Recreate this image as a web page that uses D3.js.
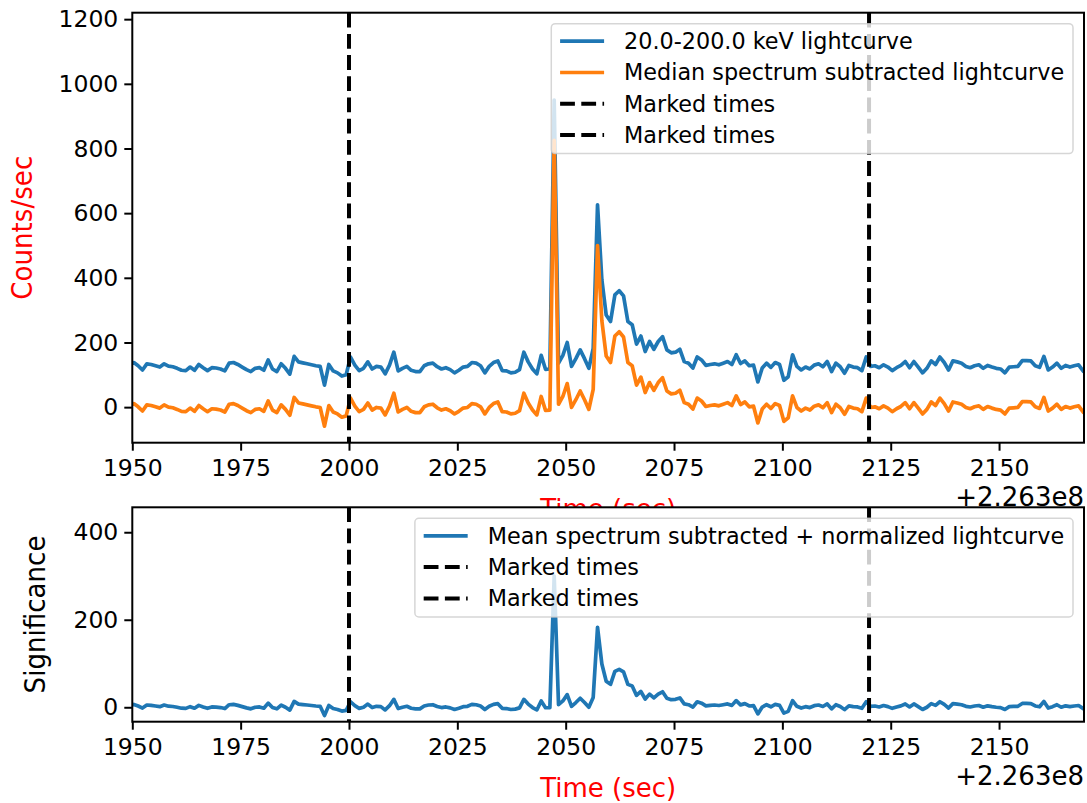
<!DOCTYPE html>
<html>
<head>
<meta charset="utf-8">
<script src="https://cdn.jsdelivr.net/npm/d3@7"></script>
<style>
  body { margin: 0; background: #fff; }
  svg { display: block; }
  .tick text { font-family: "DejaVu Sans", sans-serif; font-size: 23.5px; fill: #000; }
  .tick line { stroke: #000; stroke-width: 2; }
</style>
</head>
<body>
<div id="chart"></div>
<script>
// ---- data (1 s bins, start at 1949.35 + 2.263e8 s) ----
const tStart = 1949.35;
const rawCounts = [
  130,
  138,128,115,134,132,128,124,134,127,125,
  120,114,113,124,114,132,122,113,122,121,
  118,112,136,138,132,124,116,110,120,122,
  114,146,118,110,134,120,102,157,140,137,
  134,131,128,126,68,132,112,106,96,100,
  155,130,113,120,140,118,126,124,103,130,
  170,112,120,126,114,110,110,128,134,136,
  125,118,122,116,106,114,124,126,138,136,
  128,106,126,138,143,113,112,106,108,116,
  170,140,118,103,160,117,118,950,136,160,
  200,126,150,177,150,120,182,626,394,285,
  265,347,360,344,265,255,195,220,172,203,
  179,203,218,177,168,170,179,141,136,121,
  155,146,129,132,134,131,136,141,132,162,
  135,143,128,130,78,121,136,123,138,132,
  83,94,162,126,115,124,118,130,134,125,
  141,110,136,125,105,129,124,122,113,155,
  126,128,122,131,124,113,122,129,141,122,
  141,124,106,120,143,132,155,138,115,143,
  140,136,126,122,128,131,120,129,124,120,
  118,106,124,125,126,144,144,143,128,123,
  157,115,124,136,120,129,124,128,131,113
];
const medianSub = [
  3,
  11,1,-12,7,5,1,-3,7,0,-2,
  -7,-13,-14,-3,-13,5,-5,-14,-5,-6,
  -9,-15,9,11,5,-3,-11,-17,-7,-5,
  -13,19,-9,-17,7,-7,-25,30,13,10,
  7,4,1,-1,-59,5,-15,-21,-31,-27,
  28,3,-14,-7,13,-9,-1,-3,-24,3,
  43,-15,-7,-1,-13,-17,-17,1,7,9,
  -2,-9,-5,-11,-21,-13,-3,-1,11,9,
  1,-21,-1,11,16,-14,-15,-21,-19,-11,
  43,13,-9,-24,33,-10,-9,825,9,33,
  73,-1,23,50,23,-7,55,500,267,158,
  138,220,233,217,138,128,68,93,45,76,
  52,76,91,50,41,43,52,14,9,-6,
  28,19,2,5,7,4,9,14,5,35,
  8,16,1,3,-49,-6,9,-4,11,5,
  -44,-33,35,-1,-12,-3,-9,3,7,-2,
  14,-17,9,-2,-22,2,-3,-5,-14,28,
  -1,1,-5,4,-3,-14,-5,2,14,-5,
  14,-3,-21,-7,16,5,28,11,-12,16,
  13,9,-1,-5,1,4,-7,2,-3,-7,
  -9,-21,-3,-2,-1,17,17,16,1,-4,
  30,-12,-3,9,-7,2,-3,1,4,-14
];
const significance = [
  3.6,
  6.5,2.9,-1.8,5.1,4.3,2.9,1.4,5.1,2.5,1.8,
  0,-2.2,-2.5,1.4,-2.2,4.3,0.7,-2.5,0.7,0.4,
  -0.7,-2.9,5.8,6.5,4.3,1.4,-1.4,-3.6,0,0.7,
  -2.2,9.4,-0.7,-3.6,5.1,0,-6.5,13.4,7.2,6.1,
  5.1,4.0,2.9,2.2,-18.8,4.3,-2.9,-5.1,-8.7,-7.2,
  12.6,3.6,-2.5,0,7.2,-0.7,2.2,1.4,-6.1,3.6,
  18.1,-2.9,0,2.2,-2.2,-3.6,-3.6,2.9,5.1,5.8,
  1.8,-0.7,0.7,-1.4,-5.1,-2.2,1.4,2.2,6.5,5.8,
  2.9,-5.1,2.2,6.5,8.3,-2.5,-2.9,-5.1,-4.3,-1.4,
  18.1,7.2,-0.7,-6.1,14.4,-1.1,-0.7,299.6,5.8,14.4,
  28.9,2.2,10.8,20.6,10.8,0,22.4,182.7,98.9,59.6,
  52.3,81.9,86.6,80.9,52.3,48.7,27.1,36.1,18.8,30.0,
  21.3,30.0,35.4,20.6,17.3,18.1,21.3,7.6,5.8,0.4,
  12.6,9.4,3.2,4.3,5.1,4.0,5.8,7.6,4.3,15.2,
  5.4,8.3,2.9,3.6,-15.2,0.4,5.8,1.1,6.5,4.3,
  -13.4,-9.4,15.2,2.2,-1.8,1.4,-0.7,3.6,5.1,1.8,
  7.6,-3.6,5.8,1.8,-5.4,3.2,1.4,0.7,-2.5,12.6,
  2.2,2.9,0.7,4.0,1.4,-2.5,0.7,3.2,7.6,0.7,
  7.6,1.4,-5.1,0,8.3,4.3,12.6,6.5,-1.8,8.3,
  7.2,5.8,2.2,0.7,2.9,4.0,0,3.2,1.4,0,
  -0.7,-5.1,1.4,1.8,2.2,8.7,8.7,8.3,2.9,1.1,
  13.4,-1.8,1.4,5.8,0,3.2,1.4,2.9,4.0,-2.5
];
const markedTimes = [2000, 2120];
const xTicks = [1950, 1975, 2000, 2025, 2050, 2075, 2100, 2125, 2150];
const countTicks = [0, 200, 400, 600, 800, 1000, 1200];
const sigTicks = [0, 200, 400];
const offsetLabel = "+2.263e8";
const topLegendLabels = ["20.0-200.0 keV lightcurve", "Median spectrum subtracted lightcurve", "Marked times", "Marked times"];
const bottomLegendLabels = ["Mean spectrum subtracted + normalized lightcurve", "Marked times", "Marked times"];

const times = rawCounts.map((d, i) => tStart + i);
const blue = "#1f77b4", orange = "#ff7f0e";

// ---- layout ----
const W = 1087, H = 803;
const left = 132.3, right = 1084;
const topPanel = { top: 12.7, bottom: 442.7 };
const botPanel = { top: 507.3, bottom: 721.7 };

const svg = d3.select("#chart").append("svg").attr("width", W).attr("height", H);
svg.append("rect").attr("width", W).attr("height", H).attr("fill", "#fff");

const x = d3.scaleLinear().domain([1950, 2169.6]).range([left, right]);
const yTop = d3.scaleLinear().domain([-110, 1220]).range([topPanel.bottom, topPanel.top]);
const yBot = d3.scaleLinear().domain([-33, 457]).range([botPanel.bottom, botPanel.top]);

function drawPanel(p, y, yTicks, series, legendLabels, legendColors, yLabel, yLabelColor, yLabelX, id) {
  const g = svg.append("g");
  // axes background (covers the label of the panel above)
  g.append("rect").attr("x", left).attr("y", p.top).attr("width", right - left).attr("height", p.bottom - p.top).attr("fill", "#fff");

  svg.append("clipPath").attr("id", id).append("rect")
    .attr("x", left).attr("y", p.top).attr("width", right - left).attr("height", p.bottom - p.top);

  const plot = g.append("g").attr("clip-path", `url(#${id})`);
  series.forEach((s) => {
    const line = d3.line().x((d, i) => x(times[i])).y((d) => y(d));
    plot.append("path").datum(s.values).attr("d", line)
      .attr("fill", "none").attr("stroke", s.color).attr("stroke-width", 3.7)
      .attr("stroke-linejoin", "round").attr("stroke-linecap", "square");
  });
  markedTimes.forEach((t) => {
    plot.append("line").attr("x1", x(t)).attr("x2", x(t)).attr("y1", p.top).attr("y2", p.bottom)
      .attr("stroke", "#000").attr("stroke-width", 4).attr("stroke-dasharray", "14.8,6.4");
  });

  // axes
  const xAxis = d3.axisBottom(x).tickValues(xTicks).tickFormat(d3.format("d")).tickSize(8).tickSizeOuter(0).tickPadding(9);
  g.append("g").attr("transform", `translate(0,${p.bottom})`).call(xAxis).call((a) => a.select(".domain").remove());
  const yAxis = d3.axisLeft(y).tickValues(yTicks).tickFormat(d3.format("d")).tickSize(8).tickSizeOuter(0).tickPadding(6);
  g.append("g").attr("transform", `translate(${left},0)`).call(yAxis).call((a) => a.select(".domain").remove());

  // frame
  g.append("rect").attr("x", left).attr("y", p.top).attr("width", right - left).attr("height", p.bottom - p.top)
    .attr("fill", "none").attr("stroke", "#000").attr("stroke-width", 2);

  // legend
  const fs = 22.3, rowH = 31.3;
  const lg = g.append("g");
  const box = lg.append("rect").attr("rx", 4).attr("ry", 4)
    .attr("fill", "#fff").attr("fill-opacity", 0.8).attr("stroke", "#cccccc").attr("stroke-opacity", 0.8).attr("stroke-width", 1.5);
  const texts = legendLabels.map((lab, i) =>
    lg.append("text").attr("y", p.top + 11 + 17.5 + i * rowH).attr("dy", "0.35em")
      .style("font-family", "DejaVu Sans, sans-serif").style("font-size", fs + "px").text(lab));
  const maxW = d3.max(texts, (t) => t.node().getComputedTextLength());
  const boxW = 8.8 + 44 + 20 + maxW + 8.8;
  const boxX = right - 11 - boxW;
  const boxH = 17.5 + (legendLabels.length - 1) * rowH + 18.5;
  box.attr("x", boxX).attr("y", p.top + 11).attr("width", boxW).attr("height", boxH);
  texts.forEach((t) => t.attr("x", boxX + 8.8 + 44 + 20));
  legendLabels.forEach((lab, i) => {
    const yy = p.top + 11 + 17.5 + i * rowH;
    const c = legendColors[i];
    const ln = lg.append("line").attr("x1", boxX + 8.8).attr("x2", boxX + 8.8 + 44).attr("y1", yy).attr("y2", yy)
      .attr("stroke", c === "dash" ? "#000" : c).attr("stroke-width", c === "dash" ? 4 : 3.7);
    if (c === "dash") ln.attr("stroke-dasharray", "14.8,6.4");
  });

  // axis labels
  g.append("text").attr("x", (left + right) / 2).attr("y", p.bottom + 75).attr("text-anchor", "middle")
    .style("font-family", "DejaVu Sans, sans-serif").style("font-size", "26px").attr("fill", "red").text("Time (sec)");
  g.append("text").attr("x", right).attr("y", p.bottom + 63).attr("text-anchor", "end")
    .style("font-family", "DejaVu Sans, sans-serif").style("font-size", "26px").text(offsetLabel);
  g.append("text").attr("transform", `translate(${yLabelX},${(p.top + p.bottom) / 2}) rotate(-90)`).attr("text-anchor", "middle")
    .style("font-family", "'DejaVu Sans Condensed', 'Liberation Sans Narrow', sans-serif").style("font-stretch", "condensed")
    .style("font-size", "29px").attr("fill", yLabelColor).text(yLabel);
}

drawPanel(topPanel, yTop, countTicks,
  [{ values: rawCounts, color: blue }, { values: medianSub, color: orange }],
  topLegendLabels, [blue, orange, "dash", "dash"], "Counts/sec", "red", 32, "clipTop");
drawPanel(botPanel, yBot, sigTicks,
  [{ values: significance, color: blue }],
  bottomLegendLabels, [blue, "dash", "dash"], "Significance", "#000", 45, "clipBot");
</script>
</body>
</html>
